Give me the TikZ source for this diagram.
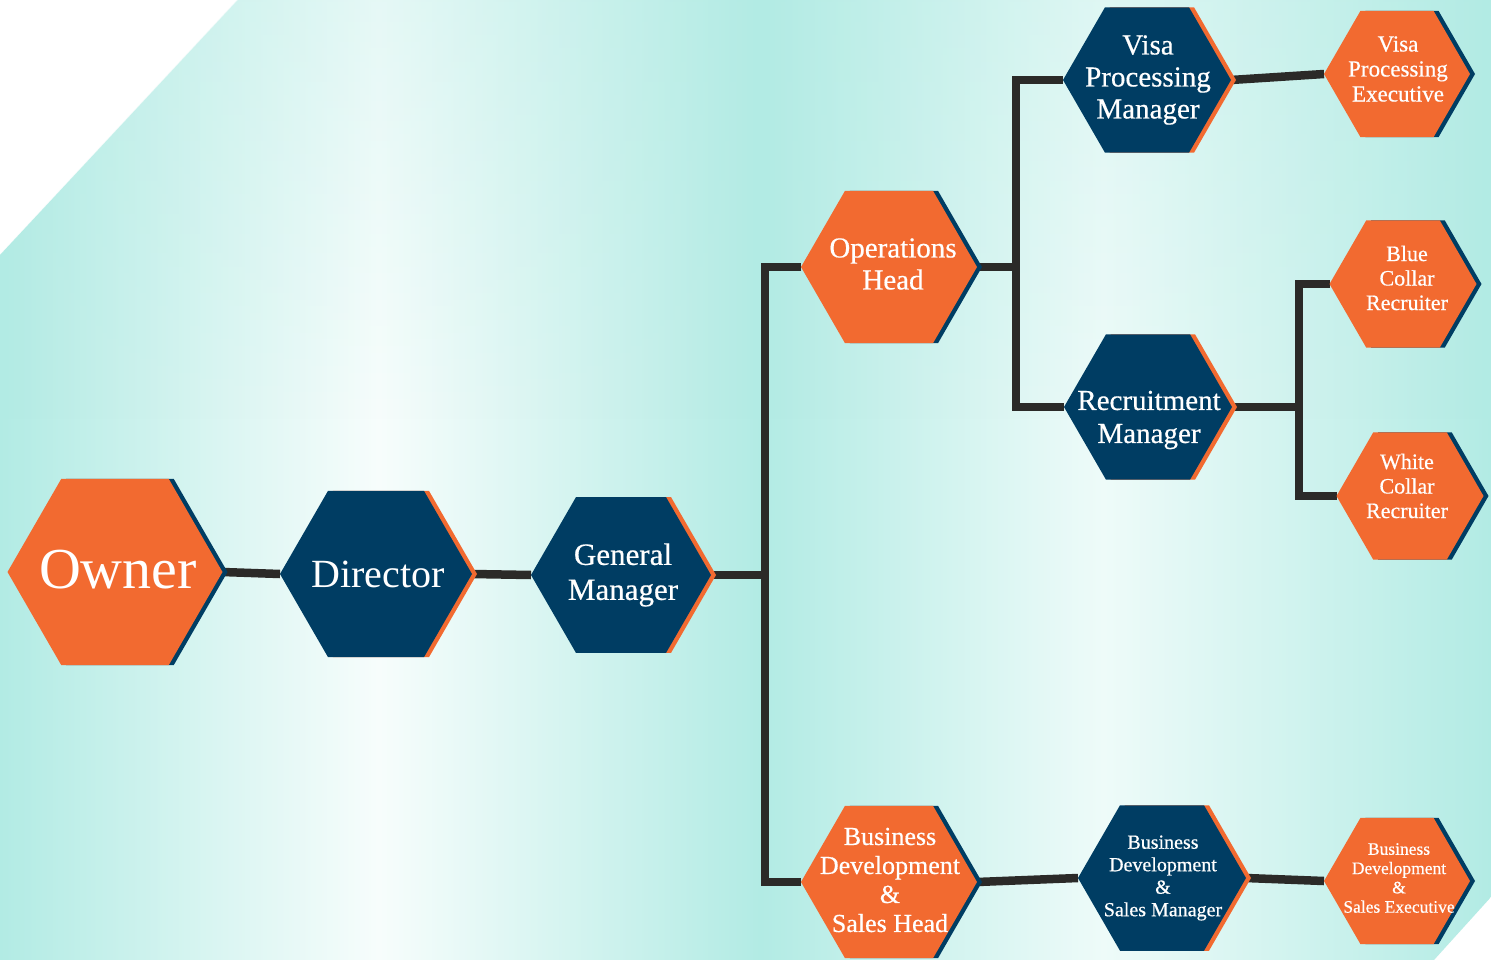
\documentclass[tikz,border=0pt]{standalone}
\usepackage{fontspec}
\setmainfont{Liberation Serif}
\newfontfamily\lblfont{Liberation Serif}[FakeBold=0.5]
\usetikzlibrary{shapes.geometric,shadows,fadings}
\definecolor{hexorange}{RGB}{242,106,48}
\definecolor{hexnavy}{RGB}{0,61,99}
\definecolor{connc}{RGB}{43,42,40}
\definecolor{tealbg}{RGB}{178,235,228}
\definecolor{whitebg}{RGB}{247,253,252}
\definecolor{midbg}{RGB}{238,251,249}
\pgfdeclarehorizontalshading{bgshade}{100bp}{color(0bp)=(tealbg); color(25bp)=(tealbg); color(37.7bp)=(whitebg); color(50.5bp)=(tealbg); color(62bp)=(midbg); color(75bp)=(tealbg); color(100bp)=(tealbg)}
\pgfdeclarelayer{back}
\pgfdeclarelayer{lines}
\pgfsetlayers{back,lines,main}
\tikzset{
  hexbase/.style={regular polygon, regular polygon sides=6, inner sep=0pt, outer sep=0pt, minimum size=#1},
  hexo/.style={hexbase=#1, fill=hexorange, drop shadow={shadow xshift=5pt, shadow yshift=0pt, fill=hexnavy, opacity=1}},
  hexb/.style={hexbase=#1, fill=hexnavy, drop shadow={shadow xshift=5pt, shadow yshift=0pt, fill=hexorange, opacity=1}},
  lbl/.style={text=white, align=center, inner sep=0pt},
  conn/.style={draw=connc, line width=8.5pt, line join=miter},
}
\begin{document}
\begin{tikzpicture}[x=1pt,y=-1pt]
\useasboundingbox (0,0) rectangle (1491,960);
\begin{pgfonlayer}{back}
\fill[white] (0,0) rectangle (1491,960);
\shade[shading=bgshade] (238,0) -- (1491,0) -- (1491,897) -- (1434,960) -- (0,960) -- (0,255) -- cycle;
\fill[tealbg, opacity=0.25, path fading=south] (238,0) -- (1491,0) -- (1491,420) -- (0,420) -- (0,255) -- cycle;
\end{pgfonlayer}

% hexagons
\node[hexo=215] (owner) at (115,572) {};
\node[hexb=192] (director) at (376,574) {};
\node[hexb=180] (gm) at (621,575) {};
\node[hexo=176] (ops) at (889,267) {};
\node[hexb=168] (vpm) at (1147,80) {};
\node[hexo=146] (vpe) at (1397,74) {};
\node[hexb=168] (rm) at (1148,407) {};
\node[hexo=147] (bcr) at (1403,284) {};
\node[hexo=147] (wcr) at (1410,496) {};
\node[hexo=176] (bdh) at (889,882) {};
\node[hexb=168] (bdm) at (1162,878) {};
\node[hexo=146] (bde) at (1397,881) {};

% labels
\node[lbl, font=\fontsize{58}{60}\selectfont] (owner-l) at ([shift={(3,-2)}]owner) {Owner};
\node[lbl, font=\fontsize{40}{44}\selectfont] (director-l) at ([shift={(2,0)}]director) {Director};
\node[lbl, font=\lblfont\fontsize{31}{35}\selectfont] (gm-l) at ([shift={(2,0)}]gm) {General\\Manager};
\node[lbl, font=\lblfont\fontsize{29}{32}\selectfont] (ops-l) at ([shift={(4,-3)}]ops) {Operations\\Head};
\node[lbl, font=\lblfont\fontsize{29}{32}\selectfont] (vpm-l) at ([shift={(1,0)}]vpm) {Visa\\Processing\\Manager};
\node[lbl, font=\lblfont\fontsize{23}{25}\selectfont] (vpe-l) at ([shift={(1,-5)}]vpe) {Visa\\Processing\\Executive};
\node[lbl, font=\lblfont\fontsize{29}{33}\selectfont] (rm-l) at ([shift={(1,13)}]rm) {Recruitment\\Manager};
\node[lbl, font=\lblfont\fontsize{22}{24.5}\selectfont] (bcr-l) at ([shift={(4,-6)}]bcr) {Blue\\Collar\\Recruiter};
\node[lbl, font=\lblfont\fontsize{22}{24.5}\selectfont] (wcr-l) at ([shift={(-3,-10)}]wcr) {White\\Collar\\Recruiter};
\node[lbl, font=\lblfont\fontsize{26}{29}\selectfont] (bdh-l) at ([shift={(1,-2)}]bdh) {Business\\Development\\\&\\Sales Head};
\node[lbl, font=\lblfont\fontsize{20}{22.5}\selectfont] (bdm-l) at ([shift={(1,0)}]bdm) {Business\\Development\\\&\\Sales Manager};
\node[lbl, font=\lblfont\fontsize{17.5}{19.3}\selectfont] (bde-l) at ([shift={(2,-3)}]bde) {Business\\Development\\\&\\Sales Executive};

% connectors
\coordinate (busA) at (765,0);
\coordinate (busB) at (1016,0);
\coordinate (busC) at (1299,0);
\begin{pgfonlayer}{lines}
\draw[conn] (owner.east) -- (director.west);
\draw[conn] (director.east) -- (gm.west);
\draw[conn] (gm.east) -- (gm.east -| busA);
\draw[conn] (ops.west) -- (ops.west -| busA) -- (bdh.west -| busA) -- (bdh.west);
\draw[conn] (ops.east) -- (ops.east -| busB);
\draw[conn] (vpm.west) -- (vpm.west -| busB) -- (rm.west -| busB) -- (rm.west);
\draw[conn] (vpm.east) -- (vpe.west);
\draw[conn] (rm.east) -- (rm.east -| busC);
\draw[conn] (bcr.west) -- (bcr.west -| busC) -- (wcr.west -| busC) -- (wcr.west);
\draw[conn] (bdh.east) -- (bdm.west);
\draw[conn] (bdm.east) -- (bde.west);
\end{pgfonlayer}
\end{tikzpicture}
\end{document}
